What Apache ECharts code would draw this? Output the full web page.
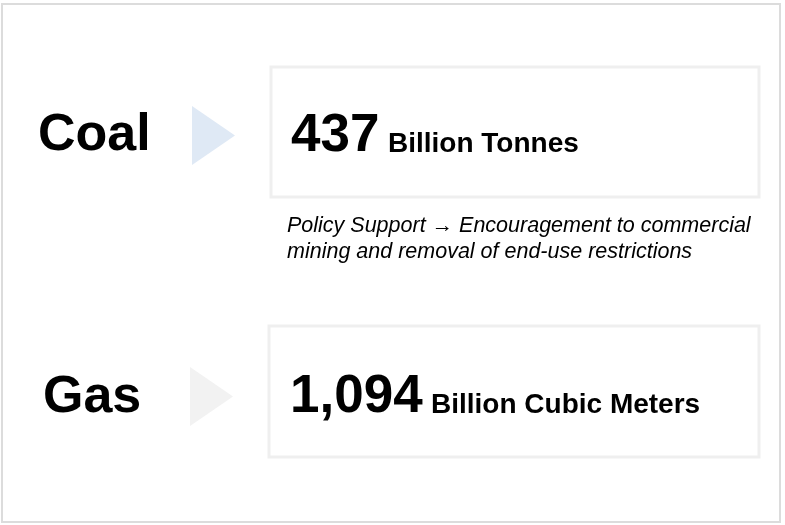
<!DOCTYPE html>
<html>
<head>
<meta charset="utf-8">
<script src="https://cdn.jsdelivr.net/npm/echarts@6/dist/echarts.min.js"></script>
<style>
  html, body { margin: 0; padding: 0; background: #ffffff; }
  #chart { width: 785px; height: 525px; }
</style>
</head>
<body>
<div id="chart"></div>
<script>
// data
const categories = ['Coal', 'Gas']
const amounts = ['437', '1,094']
const units = ['Billion Tonnes', 'Billion Cubic Meters']
const notes = [
  'Policy Support \u2192 Encouragement to commercial\nmining and removal of end-use restrictions',
  ''
]

// layout per row
const rowLayout = [
  { box: [271, 67, 488, 130], tri: [192, 106, 235, 165], label: [38, 136, 52], num: [291, 136], unit: [388, 144], note: [287, 213] },
  { box: [269, 326, 490, 131], tri: [190, 367, 233, 426], label: [43, 398, 52], num: [290, 397], unit: [431, 405], note: null }
]
const arrowColors = ['#dfe9f5', '#f2f2f2']
const FONT = '"Liberation Sans", Arial, Helvetica, sans-serif'

const chart = echarts.init(document.getElementById('chart'), null, { renderer: 'canvas' })

const elements = [
  {
    type: 'rect',
    shape: { x: 2, y: 4, width: 778, height: 518 },
    style: { fill: '#ffffff', stroke: '#dcdcdc', lineWidth: 2 },
    silent: true
  }
]

categories.forEach(function (name, i) {
  const l = rowLayout[i]
  elements.push({
    type: 'rect',
    shape: { x: l.box[0], y: l.box[1], width: l.box[2], height: l.box[3] },
    style: { fill: '#ffffff', stroke: '#efefef', lineWidth: 3 }
  })
  elements.push({
    type: 'polygon',
    shape: { points: [[l.tri[0], l.tri[1]], [l.tri[2], (l.tri[1] + l.tri[3]) / 2], [l.tri[0], l.tri[3]]] },
    style: { fill: arrowColors[i] }
  })
  elements.push({
    type: 'text',
    x: l.label[0],
    y: l.label[1],
    style: {
      text: name,
      fill: '#000000',
      font: 'bold ' + l.label[2] + 'px ' + FONT,
      verticalAlign: 'middle'
    }
  })
  elements.push({
    type: 'text',
    x: l.num[0],
    y: l.num[1],
    style: {
      text: amounts[i],
      fill: '#000000',
      font: 'bold 53px ' + FONT,
      verticalAlign: 'middle'
    }
  })
  elements.push({
    type: 'text',
    x: l.unit[0],
    y: l.unit[1],
    style: {
      text: units[i],
      fill: '#000000',
      font: 'bold 28px ' + FONT,
      verticalAlign: 'middle'
    }
  })
  if (l.note && notes[i]) {
    elements.push({
      type: 'text',
      x: l.note[0],
      y: l.note[1],
      style: {
        text: notes[i],
        fill: '#000000',
        font: 'italic 21.5px ' + FONT,
        lineHeight: 26,
        verticalAlign: 'top'
      }
    })
  }
})

chart.setOption({
  backgroundColor: '#ffffff',
  animation: false,
  graphic: { elements: elements }
})
</script>
</body>
</html>
